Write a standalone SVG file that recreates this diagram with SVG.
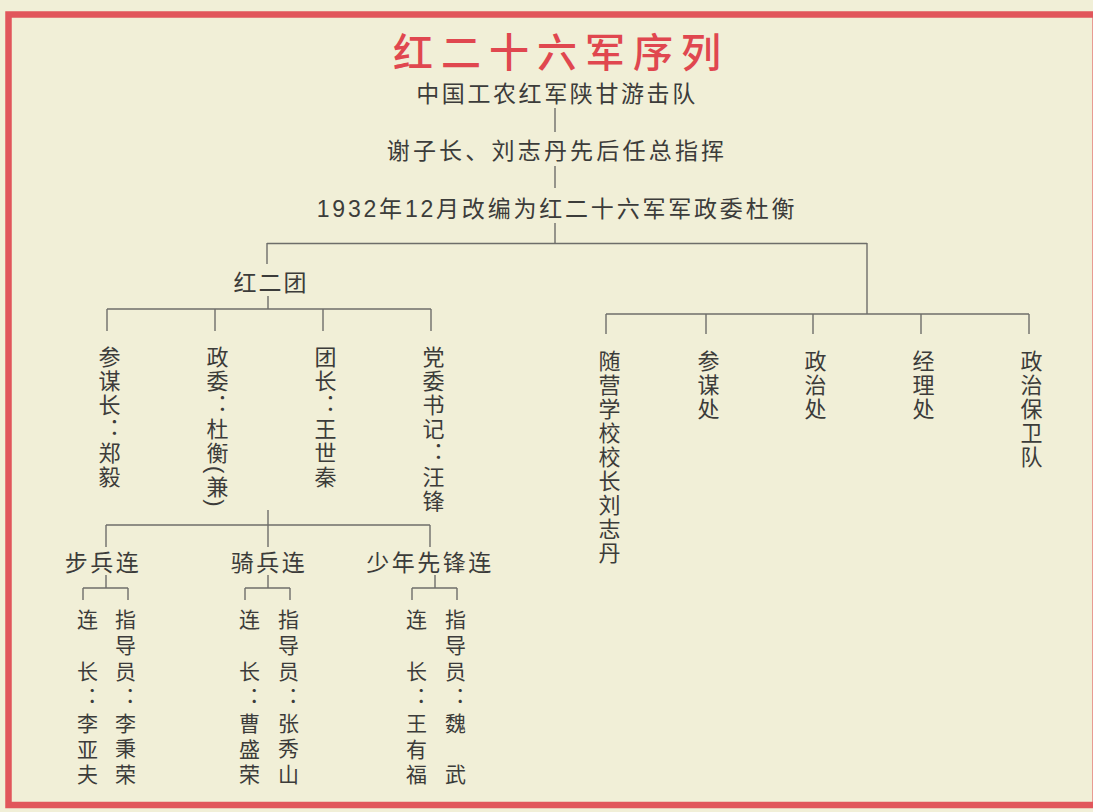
<svg xmlns="http://www.w3.org/2000/svg" width="1093" height="812" viewBox="0 0 1093 812">
<style>
text{font-family:"Liberation Sans","Noto Sans CJK SC",sans-serif;fill:#3c3c3a}
.title{font-size:40px;fill:#e0474f;letter-spacing:8px;text-anchor:middle;font-weight:500}
.h{font-size:23px;text-anchor:middle}
.v{font-size:22px;writing-mode:vertical-rl;letter-spacing:2px}
.vs{font-size:21px;writing-mode:vertical-rl;letter-spacing:4.8px}
#connectors line{stroke:#6e6e6a;stroke-width:1.4}
</style>
<rect width="1093" height="812" fill="#f1efd7"/>
<rect x="8.5" y="14.5" width="1087.2" height="790.5" fill="none" stroke="#e1565b" stroke-width="6.5"/>
<g id="title"><text class="title" x="561" y="67">红二十六军序列</text></g>
<g id="connectors">
<line x1="555" y1="108" x2="555" y2="132"/>
<line x1="555" y1="166" x2="555" y2="188"/>
<line x1="555" y1="223" x2="555" y2="243.5"/>
<line x1="267" y1="243.5" x2="867" y2="243.5"/>
<line x1="267" y1="243" x2="267" y2="264"/>
<line x1="268" y1="296" x2="268" y2="309"/>
<line x1="107" y1="309" x2="431" y2="309"/>
<line x1="107" y1="309" x2="107" y2="331"/>
<line x1="215" y1="309" x2="215" y2="331"/>
<line x1="323" y1="309" x2="323" y2="331"/>
<line x1="431" y1="309" x2="431" y2="331"/>
<line x1="867" y1="243" x2="867" y2="314"/>
<line x1="606" y1="314" x2="1029" y2="314"/>
<line x1="606" y1="314" x2="606" y2="334"/>
<line x1="706" y1="314" x2="706" y2="334"/>
<line x1="813" y1="314" x2="813" y2="334"/>
<line x1="921" y1="314" x2="921" y2="334"/>
<line x1="1029" y1="314" x2="1029" y2="334"/>
<line x1="268" y1="510" x2="268" y2="547"/>
<line x1="106" y1="525" x2="430" y2="525"/>
<line x1="106" y1="525" x2="106" y2="547"/>
<line x1="430" y1="525" x2="430" y2="547"/>
<line x1="106" y1="575" x2="106" y2="588"/>
<line x1="83" y1="588" x2="128" y2="588"/>
<line x1="83" y1="588" x2="83" y2="600"/>
<line x1="128" y1="588" x2="128" y2="600"/>
<line x1="268" y1="575" x2="268" y2="588"/>
<line x1="245" y1="588" x2="290" y2="588"/>
<line x1="245" y1="588" x2="245" y2="600"/>
<line x1="290" y1="588" x2="290" y2="600"/>
<line x1="435" y1="575" x2="435" y2="588"/>
<line x1="412" y1="588" x2="457" y2="588"/>
<line x1="412" y1="588" x2="412" y2="600"/>
<line x1="457" y1="588" x2="457" y2="600"/>
</g>
<g id="n-guerrilla"><text class="h" x="557" y="102" style="letter-spacing:2.6px">中国工农红军陕甘游击队</text></g>
<g id="n-commanders"><text class="h" x="557" y="159" style="letter-spacing:3.2px">谢子长、刘志丹先后任总指挥</text></g>
<g id="n-26army"><text class="h" x="557" y="217" style="letter-spacing:2.8px">1932年12月改编为红二十六军军政委杜衡</text></g>
<g id="n-red2"><text class="h" x="271" y="291" style="letter-spacing:2px">红二团</text></g>
<g id="n-chief-staff"><text class="v" x="107" y="346">参谋长：郑毅</text></g>
<g id="n-commissar"><text class="v" x="215" y="346">政委：杜衡(兼)</text></g>
<g id="n-commander"><text class="v" x="323" y="346">团长：王世秦</text></g>
<g id="n-party-sec"><text class="v" x="431" y="346">党委书记：汪锋</text></g>
<g id="n-school"><text class="v" x="607" y="350">随营学校校长刘志丹</text></g>
<g id="n-staff-office"><text class="v" x="706" y="350">参谋处</text></g>
<g id="n-political-office"><text class="v" x="813" y="350">政治处</text></g>
<g id="n-supply-office"><text class="v" x="921" y="350">经理处</text></g>
<g id="n-security"><text class="v" x="1029" y="350">政治保卫队</text></g>
<g id="n-infantry"><text class="h" x="103" y="571" style="letter-spacing:2.5px">步兵连</text></g>
<g id="n-cavalry"><text class="h" x="269" y="571" style="letter-spacing:2.5px">骑兵连</text></g>
<g id="n-youth"><text class="h" x="430" y="571" style="letter-spacing:2.5px">少年先锋连</text></g>
<g id="n-inf-cmd"><text class="vs" x="86" y="609"><tspan>连</tspan><tspan x="86" y="660.6">长：李亚夫</tspan></text></g>
<g id="n-inf-pol"><text class="vs" x="124" y="609">指导员：李秉荣</text></g>
<g id="n-cav-cmd"><text class="vs" x="248" y="609"><tspan>连</tspan><tspan x="248" y="660.6">长：曹盛荣</tspan></text></g>
<g id="n-cav-pol"><text class="vs" x="287" y="609">指导员：张秀山</text></g>
<g id="n-youth-cmd"><text class="vs" x="415" y="609"><tspan>连</tspan><tspan x="415" y="660.6">长：王有福</tspan></text></g>
<g id="n-youth-pol"><text class="vs" x="454" y="609"><tspan>指导员：魏</tspan><tspan x="454" y="763.8">武</tspan></text></g>
</svg>
